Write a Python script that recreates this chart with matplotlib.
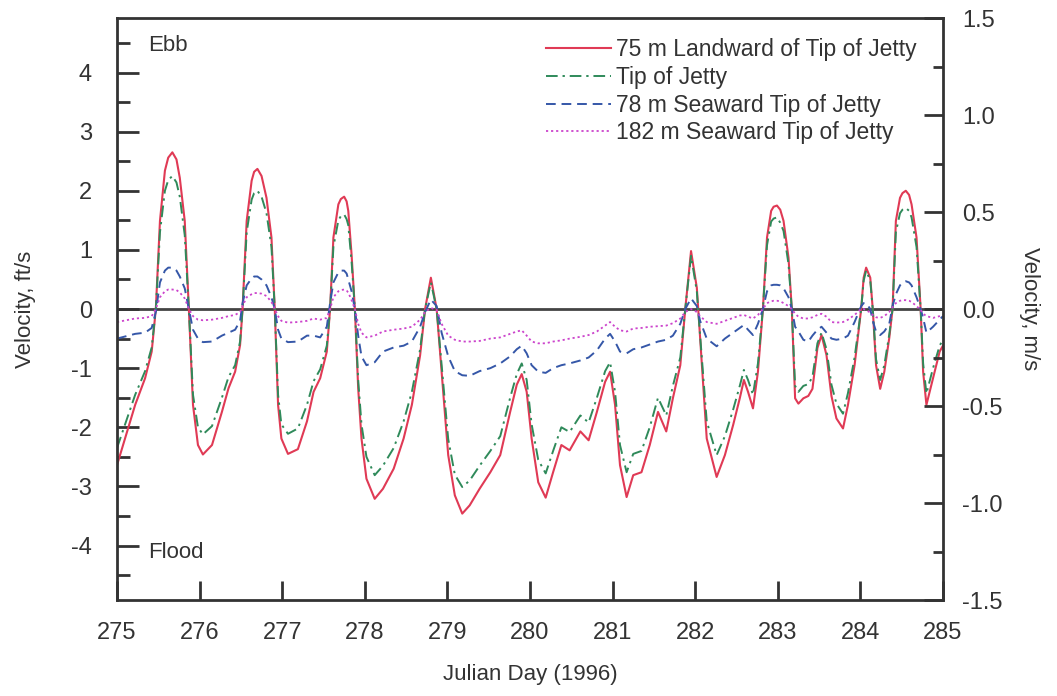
import matplotlib
matplotlib.use("Agg")
import matplotlib.pyplot as plt
from matplotlib.ticker import MultipleLocator, FormatStrFormatter

plt.rcParams['font.family'] = ['Liberation Sans', 'DejaVu Sans']
plt.rcParams['axes.unicode_minus'] = False

# Julian day (1996) and velocities in ft/s
day = [275.00, 275.22, 275.34, 275.42, 275.47, 275.52, 275.58, 275.62, 275.67, 275.72, 275.76, 275.82,
       275.87, 275.92, 275.98, 276.04, 276.15, 276.27, 276.35, 276.43, 276.49, 276.52,
       276.57, 276.63, 276.66, 276.70, 276.75, 276.81, 276.87, 276.91, 276.95, 276.99, 277.07, 277.19,
       277.30, 277.38, 277.46, 277.54, 277.58, 277.62, 277.68, 277.71, 277.75, 277.78, 277.80, 277.84,
       277.88, 277.92, 277.96, 278.02, 278.12, 278.22, 278.35, 278.47, 278.57, 278.67,
       278.73, 278.80, 278.87, 278.93, 279.01, 279.09, 279.18, 279.27, 279.39, 279.52,
       279.64, 279.76, 279.84, 279.90, 279.96, 280.02, 280.10, 280.19, 280.28, 280.38,
       280.48, 280.61, 280.71, 280.81, 280.91, 280.97, 281.03, 281.09, 281.17, 281.25,
       281.35, 281.45, 281.55, 281.65, 281.73, 281.82, 281.88, 281.95, 282.02, 282.06,
       282.14, 282.26, 282.36, 282.46, 282.54, 282.59, 282.64, 282.70, 282.76, 282.82,
       282.87, 282.92, 282.95, 282.99, 283.03, 283.07, 283.13, 283.17, 283.21, 283.25, 283.31, 283.37,
       283.42, 283.48, 283.53, 283.59, 283.65, 283.71, 283.79, 283.85, 283.93, 284.01,
       284.04, 284.07, 284.12, 284.15, 284.19, 284.24, 284.29, 284.35, 284.39, 284.43,
       284.48, 284.51, 284.55, 284.59, 284.62, 284.68, 284.73, 284.76, 284.80, 284.88, 284.96, 285.00]

landward_75m = [-2.64, -1.62, -1.17, -0.72, 0.00, 1.49, 2.34, 2.56, 2.65, 2.53, 2.22, 1.49,
                0.00, -1.62, -2.30, -2.46, -2.30, -1.74, -1.34, -1.06, -0.61, 0.00,
                1.49, 2.17, 2.32, 2.37, 2.25, 1.88, 1.21, 0.00, -1.62, -2.19, -2.45, -2.37,
                -1.90, -1.40, -1.17, -0.72, 0.00, 1.21, 1.77, 1.86, 1.90, 1.82, 1.66, 0.92,
                0.00, -1.34, -2.19, -2.87, -3.21, -3.04, -2.70, -2.19, -1.62, -0.78,
                0.00, 0.53, 0.00, -1.06, -2.47, -3.15, -3.46, -3.32, -3.04, -2.76,
                -2.47, -1.74, -1.28, -1.10, -1.40, -2.19, -2.93, -3.19, -2.76, -2.30,
                -2.39, -2.07, -2.22, -1.74, -1.23, -1.06, -1.62, -2.64, -3.18, -2.81,
                -2.76, -2.30, -1.74, -2.07, -1.51, -0.95, 0.00, 0.98, 0.36, -0.49,
                -2.19, -2.84, -2.47, -1.96, -1.51, -1.20, -1.40, -1.68, -1.06, 0.00,
                1.21, 1.66, 1.73, 1.75, 1.68, 1.49, 0.87, 0.00, -1.51, -1.60, -1.51, -1.47,
                -1.35, -0.66, -0.44, -0.78, -1.47, -1.85, -2.02, -1.62, -0.95, 0.00,
                0.53, 0.70, 0.53, 0.00, -0.95, -1.35, -1.06, -0.49, 0.00, 1.49,
                1.88, 1.96, 2.00, 1.93, 1.77, 1.21, 0.00, -1.06, -1.62, -1.17, -0.72, -0.62]

tip_of_jetty = [-2.35, -1.45, -1.05, -0.65, 0.00, 1.30, 2.00, 2.18, 2.25, 2.14, 1.90, 1.25,
                0.00, -1.45, -2.00, -2.12, -1.98, -1.50, -1.15, -0.95, -0.55, 0.00,
                1.30, 1.85, 1.96, 2.00, 1.90, 1.62, 1.05, 0.00, -1.45, -1.95, -2.11, -2.02,
                -1.62, -1.22, -1.02, -0.62, 0.00, 1.05, 1.50, 1.57, 1.60, 1.52, 1.42, 0.80,
                0.00, -1.20, -1.95, -2.50, -2.81, -2.65, -2.35, -1.90, -1.40, -0.68,
                0.00, 0.45, 0.00, -0.95, -2.20, -2.80, -3.01, -2.90, -2.65, -2.40,
                -2.15, -1.50, -1.10, -0.92, -1.20, -1.95, -2.55, -2.78, -2.40, -2.00,
                -2.08, -1.80, -1.92, -1.50, -1.05, -0.90, -1.40, -2.30, -2.76, -2.45,
                -2.40, -2.00, -1.50, -1.80, -1.30, -0.82, 0.00, 0.90, 0.30, -0.45,
                -1.90, -2.47, -2.15, -1.70, -1.30, -1.03, -1.20, -1.45, -0.92, 0.00,
                1.08, 1.48, 1.53, 1.55, 1.46, 1.32, 0.76, 0.00, -1.30, -1.40, -1.30, -1.27,
                -1.15, -0.58, -0.40, -0.68, -1.28, -1.60, -1.77, -1.42, -0.82, 0.00,
                0.48, 0.65, 0.48, 0.00, -0.85, -1.20, -0.95, -0.43, 0.00, 1.30,
                1.62, 1.68, 1.71, 1.66, 1.55, 1.05, 0.00, -0.92, -1.43, -1.00, -0.62, -0.52]

seaward_78m = [-0.50, -0.42, -0.40, -0.32, -0.05, 0.45, 0.65, 0.70, 0.70, 0.65, 0.55, 0.35,
               0.00, -0.35, -0.50, -0.56, -0.55, -0.45, -0.40, -0.35, -0.20, 0.10,
               0.40, 0.52, 0.55, 0.55, 0.50, 0.40, 0.20, 0.00, -0.35, -0.50, -0.56, -0.55,
               -0.45, -0.45, -0.48, -0.30, 0.10, 0.45, 0.62, 0.65, 0.65, 0.60, 0.50, 0.30,
               0.00, -0.45, -0.80, -0.95, -0.90, -0.72, -0.65, -0.62, -0.55, -0.30,
               -0.05, 0.16, 0.05, -0.40, -0.80, -1.05, -1.12, -1.13, -1.05, -1.00,
               -0.92, -0.80, -0.68, -0.62, -0.75, -0.95, -1.06, -1.08, -1.00, -0.95,
               -0.92, -0.87, -0.82, -0.70, -0.50, -0.42, -0.55, -0.72, -0.75, -0.68,
               -0.65, -0.60, -0.55, -0.52, -0.45, -0.25, 0.00, 0.18, 0.05, -0.20,
               -0.50, -0.63, -0.50, -0.40, -0.32, -0.27, -0.35, -0.44, -0.25, 0.00,
               0.30, 0.40, 0.41, 0.41, 0.40, 0.35, 0.20, 0.00, -0.30, -0.38, -0.52, -0.55,
               -0.45, -0.35, -0.30, -0.40, -0.50, -0.52, -0.50, -0.45, -0.22, 0.05,
               0.10, 0.10, 0.00, -0.20, -0.38, -0.44, -0.38, -0.25, 0.05, 0.25,
               0.40, 0.45, 0.47, 0.45, 0.40, 0.20, 0.00, -0.15, -0.40, -0.30, -0.18, -0.12]

seaward_182m = [-0.22, -0.16, -0.15, -0.12, 0.00, 0.20, 0.30, 0.33, 0.33, 0.32, 0.28, 0.18,
                0.00, -0.12, -0.18, -0.19, -0.18, -0.15, -0.12, -0.10, -0.05, 0.05,
                0.20, 0.25, 0.27, 0.27, 0.26, 0.22, 0.12, 0.00, -0.12, -0.20, -0.23, -0.22,
                -0.20, -0.16, -0.18, -0.15, 0.00, 0.20, 0.30, 0.32, 0.33, 0.31, 0.28, 0.15,
                0.00, -0.25, -0.40, -0.48, -0.45, -0.38, -0.35, -0.33, -0.30, -0.18,
                -0.05, 0.02, -0.02, -0.25, -0.45, -0.52, -0.55, -0.55, -0.54, -0.50,
                -0.48, -0.42, -0.38, -0.36, -0.45, -0.55, -0.58, -0.58, -0.55, -0.53,
                -0.50, -0.47, -0.44, -0.38, -0.28, -0.22, -0.30, -0.36, -0.38, -0.33,
                -0.32, -0.30, -0.29, -0.28, -0.24, -0.16, -0.05, 0.00, -0.05, -0.12,
                -0.22, -0.25, -0.20, -0.15, -0.11, -0.10, -0.13, -0.16, -0.10, 0.00,
                0.10, 0.13, 0.14, 0.14, 0.13, 0.10, 0.05, 0.00, -0.08, -0.13, -0.16, -0.16,
                -0.14, -0.10, -0.08, -0.13, -0.22, -0.23, -0.22, -0.18, -0.10, 0.00,
                0.00, -0.02, -0.06, -0.10, -0.14, -0.15, -0.12, -0.05, 0.03, 0.10,
                0.14, 0.15, 0.15, 0.14, 0.12, 0.05, -0.02, -0.08, -0.12, -0.15, -0.12, -0.10]

labels = ['75 m Landward of Tip of Jetty', 'Tip of Jetty',
          '78 m Seaward Tip of Jetty', '182 m Seaward Tip of Jetty']

FT_PER_M = 1 / 0.3048

fig = plt.figure(figsize=(10.57, 6.96), dpi=100)
ax = fig.add_axes([0.1107, 0.1379, 0.7814, 0.8362])

ax.plot(day, landward_75m, color='#e03a55', lw=1.5, ls='-', label=labels[0])
ax.plot(day, tip_of_jetty, color='#2f8a5a', lw=1.4, ls=(0, (6, 2.5, 1.2, 2.5)), label=labels[1])
ax.plot(day, seaward_78m, color='#3557a8', lw=1.4, ls=(0, (5, 3)), label=labels[2])
ax.plot(day, seaward_182m, color='#cc44cc', lw=1.3, ls=(0, (1.2, 1.6)), label=labels[3])
ax.axhline(0, color='#444444', lw=2.0, zorder=1)

ax.set_xlim(275, 285)
ax.set_ylim(-1.5 * FT_PER_M, 1.5 * FT_PER_M)
ax.xaxis.set_major_locator(MultipleLocator(1))
ax.yaxis.set_major_locator(MultipleLocator(1))
ax.yaxis.set_minor_locator(MultipleLocator(0.5))

for s in ax.spines.values():
    s.set_linewidth(2.0)
    s.set_color('#333333')

ax.tick_params(axis='x', which='major', direction='in', length=14, width=2,
               color='#333333', labelsize=17, pad=16, top=False, labelcolor='#333333')
ax.tick_params(axis='y', which='major', direction='in', length=16, width=2,
               color='#333333', labelsize=17, pad=18, right=False, labelcolor='#333333')
ax.tick_params(axis='y', which='minor', direction='in', length=9, width=2,
               color='#333333', right=False)

ax2 = ax.twinx()
ax2.set_ylim(-1.5, 1.5)
ax2.yaxis.set_major_locator(MultipleLocator(0.5))
ax2.yaxis.set_minor_locator(MultipleLocator(0.25))
ax2.yaxis.set_major_formatter(FormatStrFormatter('%.1f'))
ax2.tick_params(axis='y', which='major', direction='in', length=14, width=2,
                color='#333333', labelsize=17, pad=14, labelcolor='#333333')
ax2.tick_params(axis='y', which='minor', direction='in', length=7, width=2,
                color='#333333')
for s in ax2.spines.values():
    s.set_visible(False)

ax.set_xlabel('Julian Day (1996)', fontsize=16, color='#333333', labelpad=14)
ax.set_ylabel('Velocity, ft/s', fontsize=16, color='#333333', labelpad=25)
ax2.set_ylabel('Velocity, m/s', fontsize=16, color='#333333', rotation=270, labelpad=27)

ax.text(0.038, 0.952, 'Ebb', transform=ax.transAxes, fontsize=16, color='#333333', va='center')
ax.text(0.038, 0.082, 'Flood', transform=ax.transAxes, fontsize=16, color='#333333', va='center')

ax.legend(loc='upper left', bbox_to_anchor=(0.52, 0.965), frameon=False, fontsize=16.5,
          handlelength=2.8, handletextpad=0.25, labelspacing=0.2, borderpad=0,
          borderaxespad=0, labelcolor='#333333')

fig.savefig('out.png', dpi=100)
